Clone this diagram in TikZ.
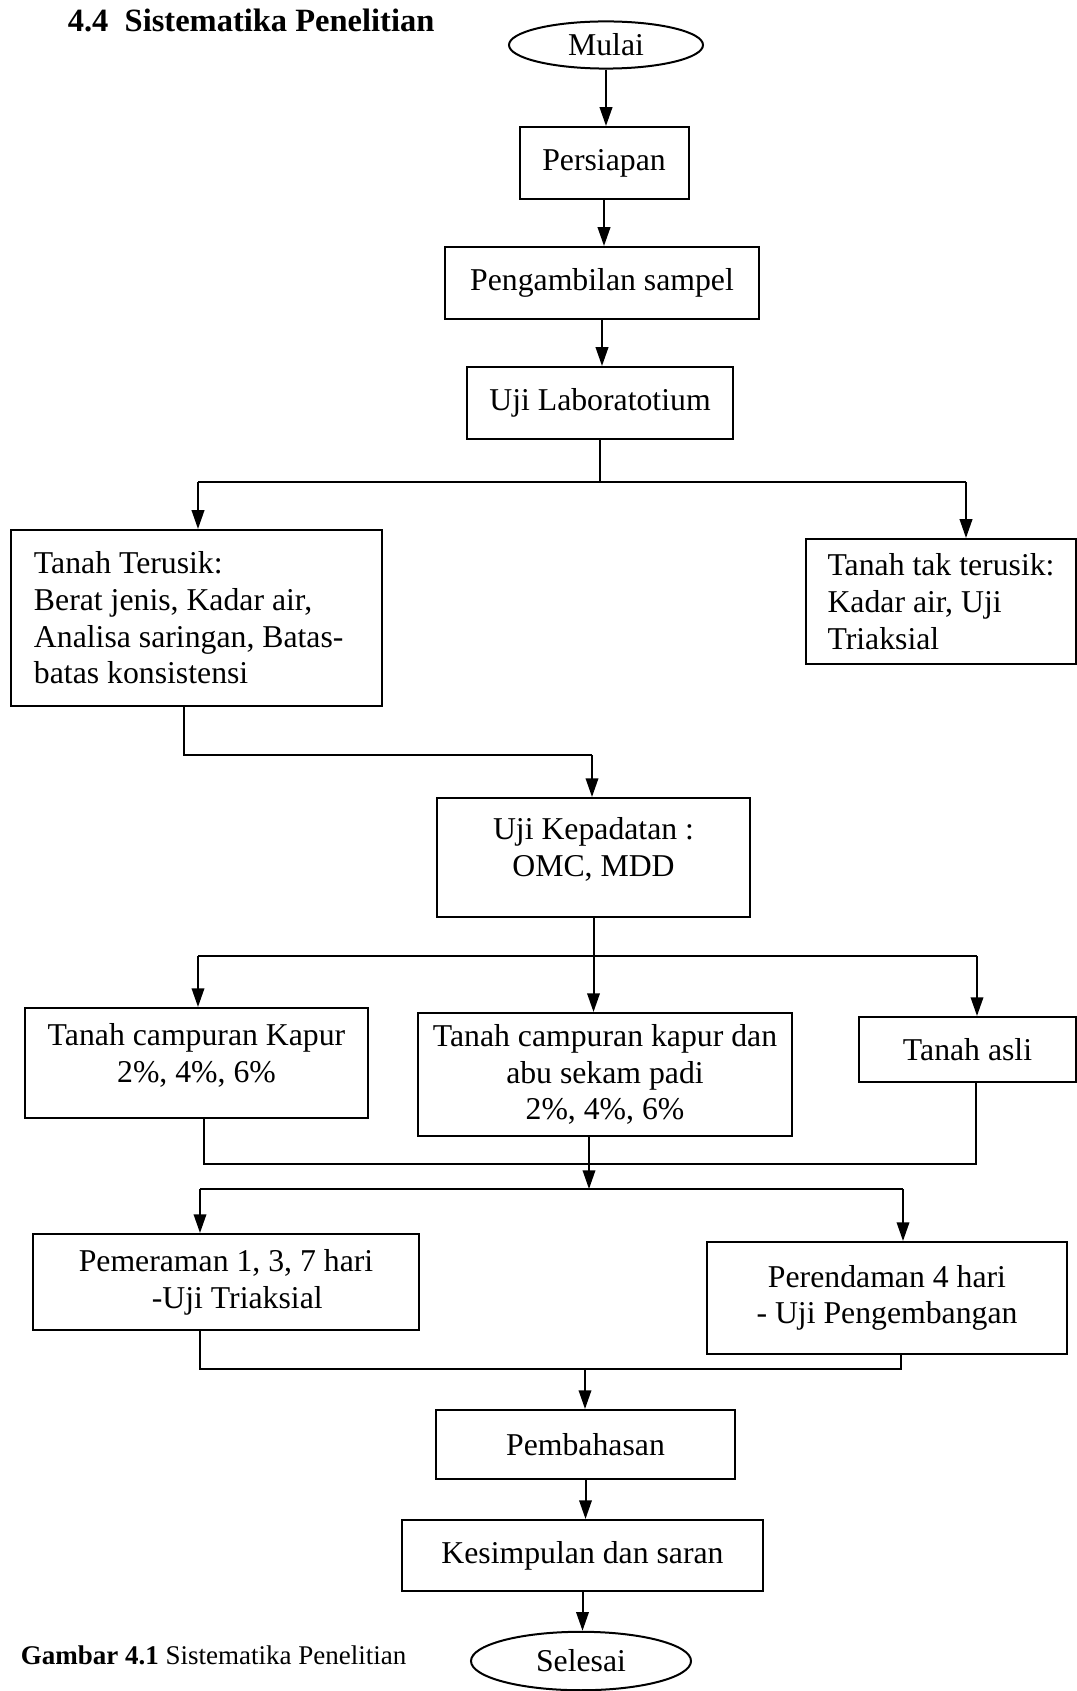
\documentclass[tikz,border=0pt]{standalone}
\usepackage{fontspec}
\setmainfont{Liberation Serif}
\usetikzlibrary{arrows.meta, shapes.geometric}

\tikzset{
  box/.style  = {draw, line width=0.8pt, minimum height=28.8pt, inner sep=0pt,
                 align=center, font=\fontsize{12.7}{14.7}\selectfont},
  oval/.style = {box, ellipse},
  flow/.style = {line width=0.8pt, -{Triangle[length=7.5pt, width=5pt]}},
  link/.style = {line width=0.8pt},
}

\begin{document}
\begin{tikzpicture}[x=0.4pt, y=-0.4pt]
    \useasboundingbox (0,0) rectangle (1077,1691);
    % heading and caption
    \node[anchor=base west, font=\fontsize{13}{15}\selectfont\bfseries] (title) at (59,32)
        {4.4\hspace{0.5em}Sistematika Penelitian};
    \node[anchor=base west, font=\fontsize{10.8}{13}\selectfont] (caption) at (12,1664)
        {\textbf{Gambar 4.1} Sistematika Penelitian};
    % steps of the flow
    \node[oval, minimum width=77.6pt, minimum height=18.6pt, inner ysep=2.2pt] (mulai) at (606,45) {Mulai};
    \node[box,  minimum width=67.6pt]                        (siap)    at (604,163)    {Persiapan};
    \node[box,  minimum width=125.6pt]                       (sampel)  at (602,283)    {Pengambilan sampel};
    \node[box,  minimum width=106.4pt]                       (lab)     at (600,403)    {Uji Laboratotium};
    \node[box,  minimum width=148.4pt, minimum height=70.4pt, text width=130pt, align=flush left] (terusik) at (196.5,618)
        {Tanah Terusik:\\Berat jenis, Kadar air,\\Analisa saringan, Batas-\\batas konsistensi};
    \node[box,  minimum width=108pt, minimum height=50pt, align=flush left] (takterusik) at (941,601.5)
        {Tanah tak terusik:\\Kadar air, Uji\\Triaksial};
    \node[box,  minimum width=125.2pt, minimum height=47.6pt, text depth=8.5pt] (padat) at (593.5,857.5)
        {Uji Kepadatan :\\OMC, MDD};
    \node[box,  minimum width=137.2pt, minimum height=44pt, text depth=8pt] (kapur) at (196.5,1063)
        {Tanah campuran Kapur\\2\%, 4\%, 6\%};
    \node[box,  minimum width=149.6pt, minimum height=49.2pt] (abu)    at (605,1074.5)
        {Tanah campuran kapur dan\\abu sekam padi\\2\%, 4\%, 6\%};
    \node[box,  minimum width=86.8pt, minimum height=26pt]    (asli)   at (967.5,1049.5)
        {Tanah asli};
    \node[box,  minimum width=154.4pt, minimum height=38.4pt] (peram)  at (226,1282)
        {Pemeraman 1, 3, 7 hari\\\hspace*{9pt}-Uji Triaksial};
    \node[box,  minimum width=144pt, minimum height=44.8pt]   (rendam) at (887,1298)
        {Perendaman 4 hari\\- Uji Pengembangan};
    \node[box,  minimum width=119.6pt, minimum height=27.6pt] (bahas)  at (585.5,1444.5) {Pembahasan};
    \node[box,  minimum width=144.4pt, minimum height=28.4pt] (simpul) at (582.5,1555.5) {Kesimpulan dan saran};
    \node[oval, minimum width=88pt, minimum height=23.2pt, inner ysep=3.8pt] (selesai) at (581,1661) {Selesai};
    % coordinates for the junctions
    \coordinate (row1)   at (0,482);
    \coordinate (left1)  at (198,482);
    \coordinate (right1) at (966,482);
    \coordinate (out2)   at (184,755);
    \coordinate (in2)    at (592,755);
    \coordinate (row3)   at (0,956);
    \coordinate (left3)  at (198,956);
    \coordinate (right3) at (977,956);
    \coordinate (left4)  at (204,1164);
    \coordinate (right4) at (976,1164);
    \coordinate (mid5)   at (589,1189);
    \coordinate (left5)  at (200,1189);
    \coordinate (right5) at (903,1189);
    \coordinate (left6)  at (200,1369);
    \coordinate (right6) at (901,1369);
    \coordinate (mid6)   at (585,1369);
    % connectors
    \draw[flow] (mulai.south)  -- (mulai.south |- siap.north);
    \draw[flow] (siap.south)   -- (siap.south |- sampel.north);
    \draw[flow] (sampel.south) -- (sampel.south |- lab.north);
    \draw[link] (lab.south)    -- (lab.south |- row1);
    \draw[link] (left1) -- (right1);
    \draw[flow] (left1)  -- (left1 |- terusik.north);
    \draw[flow] (right1) -- (right1 |- takterusik.north);
    \draw[link] (terusik.south -| out2) -- (out2) -- (in2);
    \draw[flow] (in2) -- (in2 |- padat.north);
    \draw[link] (padat.south) -- (padat.south |- row3);
    \draw[link] (left3) -- (right3);
    \draw[flow] (left3)  -- (left3 |- kapur.north);
    \draw[flow] (padat.south |- row3) -- (padat.south |- abu.north);
    \draw[flow] (right3) -- (right3 |- asli.north);
    \draw[link] (kapur.south -| left4) -- (left4) -- (right4) -- (asli.south -| right4);
    \draw[flow] (abu.south -| mid5) -- (mid5);
    \draw[link] (left5) -- (right5);
    \draw[flow] (left5)  -- (left5 |- peram.north);
    \draw[flow] (right5) -- (right5 |- rendam.north);
    \draw[link] (peram.south -| left6) -- (left6) -- (right6) -- (rendam.south -| right6);
    \draw[flow] (mid6) -- (mid6 |- bahas.north);
    \draw[flow] (bahas.south)  -- (bahas.south |- simpul.north);
    \draw[flow] (simpul.south) -- (simpul.south |- selesai.north);
\end{tikzpicture}
\end{document}
